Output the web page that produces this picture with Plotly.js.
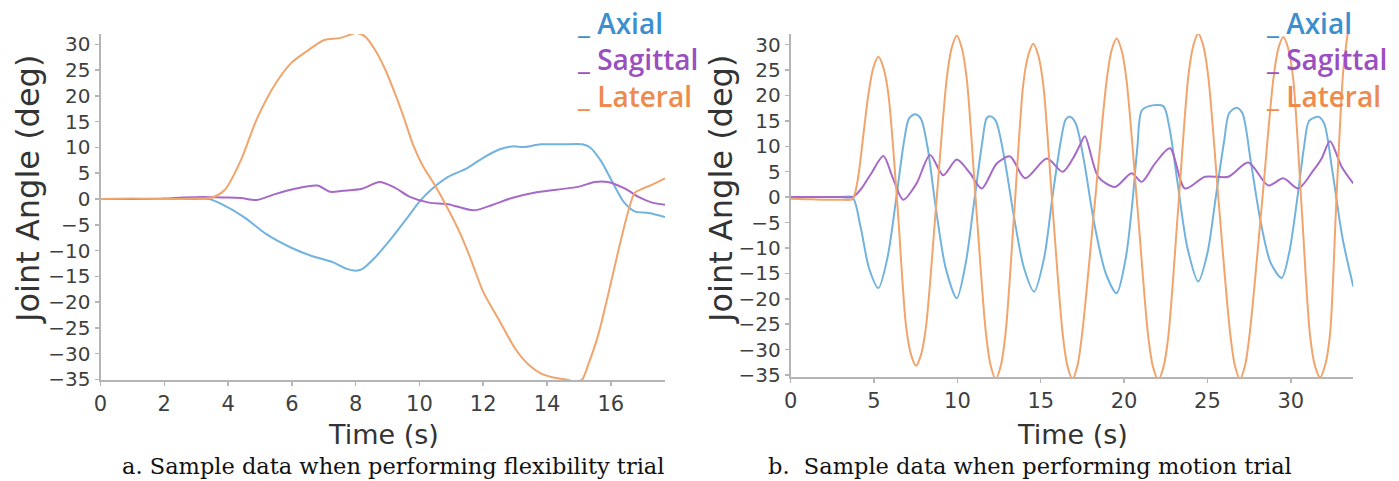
<!DOCTYPE html>
<html>
<head>
<meta charset="utf-8">
<script src="https://cdn.plot.ly/plotly-3.0.1.min.js"></script>
<style>html,body{margin:0;padding:0;background:#fff;}#chart{width:1399px;height:481px;}</style>
</head>
<body>
<div id="chart"></div>
<script>
// ---------- Data: (a) flexibility trial ----------
const flexAxialT = [0,1,2,3,3.4,3.8,4.5,5.2,6.0,6.6,7.3,7.7,8.0,8.2,8.6,9.1,9.6,10.0,10.4,10.9,11.5,12.0,12.5,12.9,13.3,13.8,14.5,15.1,15.35,15.7,16.05,16.4,16.75,17.2,17.7];
const flexAxialV = [0,0,0,0,0,-1,-3.5,-6.8,-9.5,-11,-12.3,-13.5,-13.9,-13.6,-11.4,-7.8,-3.8,-0.5,2,4.3,6,8,9.6,10.2,10.1,10.6,10.6,10.6,10,7.3,3.3,-0.5,-2.4,-2.7,-3.5];

const flexSagittalT = [0,1,2,2.6,3.2,3.8,4.4,4.9,5.5,6.1,6.8,7.2,7.6,8.2,8.75,9.2,9.7,10.3,10.9,11.7,12.3,12.9,13.6,14.3,15.0,15.5,15.9,16.45,16.9,17.3,17.7];
const flexSagittalV = [0,0,0.1,0.3,0.4,0.3,0.2,-0.2,1,2,2.6,1.4,1.6,2,3.3,2.3,0.4,-0.7,-1,-2.2,-1.1,0.2,1.2,1.8,2.4,3.3,3.3,2,0.3,-0.7,-1.1];

const flexLateralT = [0,1,2,3,3.5,3.9,4.4,4.9,5.5,6.0,6.5,7.0,7.5,7.8,8.0,8.3,8.6,8.9,9.2,9.5,9.8,10.1,10.5,10.9,11.3,11.6,12.0,12.5,13.0,13.4,13.8,14.2,14.6,14.9,15.1,15.3,15.6,15.9,16.2,16.5,16.75,17.0,17.3,17.7];
const flexLateralV = [0,0.1,0,0.1,0.3,1.8,7.5,15.5,22.5,26.5,28.8,30.8,31.2,31.8,32.2,31.5,29,25.5,21,16,10.5,6.5,2.5,-2,-7,-11.5,-18,-23.5,-29,-32,-33.8,-34.6,-35,-35.4,-35,-32,-26.5,-19,-11,-3.5,1.2,2,2.8,4];

// ---------- Data: (b) motion trial ----------
const motAxialT = [0,1,2,3,3.7,4.2,4.7,5.26,5.8,6.3,6.8,7.1,7.46,7.8,8.2,8.7,9.3,9.96,10.5,11.0,11.5,11.75,11.96,12.3,12.8,13.4,14.0,14.6,15.2,15.7,16.2,16.5,16.75,17.1,17.6,18.2,18.9,19.55,20.1,20.5,20.8,21.05,21.5,22.35,22.7,23.2,23.8,24.45,25.0,25.5,26.0,26.3,26.75,27.1,27.6,28.2,28.8,29.45,29.9,30.4,30.8,31.1,31.65,32.0,32.5,33.1,33.75];
const motAxialV = [0,0,0,0,0,-6,-14,-17.9,-12,-1,11,15.5,16.3,15.5,10,-2,-14,-19.9,-13,-1,11,15.5,15.9,15,8,-4,-14,-18.6,-12,0,11,15.3,15.8,14.5,7,-5,-15,-18.9,-12,-1,10,17,17.9,17.9,14,3,-10,-16.6,-11,0,11,16.5,17.6,16.5,7,-5,-13,-15.9,-11,0,10,15,15.8,14.5,5,-8,-17.6];

const motSagittalT = [0,1,2,3,3.7,4.2,4.8,5.56,6.1,6.75,7.55,8.36,9.15,9.96,10.76,11.46,12.36,13.16,14.06,15.36,16.32,17.0,17.36,17.65,18.45,19.45,20.45,21.05,21.85,22.75,23.65,24.85,26.25,27.45,28.65,29.55,30.45,31.3,31.85,32.35,33.05,33.75];
const motSagittalV = [0,0,0,0,0,1.5,4.5,8.1,4,-0.5,2.7,8.3,4.3,7.4,4.7,1.7,6.6,8,3.7,7.6,5,8,10.3,12,4,2,4.7,3,6.6,9.6,1.7,4,4,6.8,2.3,3.7,1.7,5,7.6,11,6,2.7];

const motLateralT = [0,1,2,3,3.7,4.0,4.35,4.66,4.96,5.26,5.56,5.86,6.39,6.92,7.22,7.52,7.82,8.12,8.74,9.36,9.66,9.96,10.26,10.56,11.13,11.7,12.0,12.3,12.6,12.9,13.42,13.95,14.25,14.55,14.85,15.15,15.72,16.3,16.6,16.9,17.2,17.5,18.22,18.95,19.25,19.55,19.85,20.15,20.8,21.45,21.75,22.05,22.35,22.65,23.25,23.85,24.15,24.45,24.75,25.05,25.7,26.35,26.65,26.95,27.25,27.55,28.25,28.95,29.25,29.55,29.85,30.15,30.65,31.15,31.45,31.75,32.05,32.35,32.75,33.15,33.45];
const motLateralV = [-0.3,-0.4,-0.5,-0.5,-0.4,3,12,20.2,25.5,27.6,25.5,20.2,-1,-25.4,-31,-33.2,-31,-25.4,-1,23.3,29.4,31.75,29.4,23.3,-2,-26.4,-33.2,-35.8,-33.2,-26.4,-2.5,22.2,27.9,30.2,27.9,22.2,-2.5,-26.4,-33.2,-35.8,-33.2,-26.4,-2,22.9,28.9,31.2,28.9,22.9,-2,-27.5,-33.6,-36,-33.6,-27.5,-2,23.7,29.8,32.2,29.8,23.7,-2,-26.4,-33.2,-35.8,-33.2,-26.4,-2,23.1,29.2,31.5,29.2,23.1,-2,-27.1,-33.2,-35.5,-33.2,-27.1,0.5,25,33];

// ---------- Text ----------
const seriesNames = ['Axial','Sagittal','Lateral'];
const lineColors = ['#72b3de','#a56ac8','#f1a46c'];
const textColors = ['#3b8fd0','#9a4fc0','#ee8a4c'];
const yTickVals = [-35,-30,-25,-20,-15,-10,-5,0,5,10,15,20,25,30];
const flexXTicks = [0,2,4,6,8,10,12,14,16];
const motXTicks = [0,5,10,15,20,25,30];
const yTitle = 'Joint Angle (deg)';
const xTitle = 'Time (s)';
const captionA = 'a. Sample data when performing flexibility trial';
const captionB = 'b.&nbsp; Sample data when performing motion trial';

const W = 1399, H = 481;
const px = v => v / W;
const py = v => 1 - v / H;

function tr(x, y, i, xa, ya) {
  return {x: x, y: y, type: 'scatter', mode: 'lines', name: seriesNames[i],
    xaxis: xa, yaxis: ya, showlegend: false, hoverinfo: 'skip',
    line: {color: lineColors[i], width: 2, shape: 'spline', smoothing: 0.8}};
}

const data = [
  tr(flexAxialT, flexAxialV, 0, 'x', 'y'),
  tr(flexSagittalT, flexSagittalV, 1, 'x', 'y'),
  tr(flexLateralT, flexLateralV, 2, 'x', 'y'),
  tr(motAxialT, motAxialV, 0, 'x2', 'y2'),
  tr(motSagittalT, motSagittalV, 1, 'x2', 'y2'),
  tr(motLateralT, motLateralV, 2, 'x2', 'y2')
];

const tickFont = {family: 'DejaVu Sans', size: 20, color: '#3f3f3f'};
const titleFont = {family: 'DejaVu Sans', size: 27, color: '#333333'};
const axisCommon = {showline: true, linecolor: '#b5b5b5', linewidth: 2, ticks: 'outside',
  ticklen: 4, tickwidth: 1.5, tickcolor: '#b5b5b5', showgrid: false, zeroline: false,
  fixedrange: true, automargin: false};

const layout = {
  width: W, height: H,
  margin: {l: 0, r: 0, t: 0, b: 0},
  paper_bgcolor: '#ffffff', plot_bgcolor: '#ffffff',
  showlegend: false,
  xaxis: Object.assign({}, axisCommon, {domain: [px(100.5), px(665)], range: [0, 17.7],
    tickvals: flexXTicks, tickfont: Object.assign({}, tickFont, {size: 21}), anchor: 'y'}),
  yaxis: Object.assign({}, axisCommon, {domain: [py(380), py(34)], range: [-35.1, 32.0],
    tickvals: yTickVals, tickfont: tickFont, anchor: 'x'}),
  xaxis2: Object.assign({}, axisCommon, {domain: [px(790.7), px(1353.3)], range: [0, 33.75],
    tickvals: motXTicks, tickfont: Object.assign({}, tickFont, {size: 21}), anchor: 'y2'}),
  yaxis2: Object.assign({}, axisCommon, {domain: [py(377), py(34)], range: [-35.4, 32.1],
    tickvals: yTickVals, tickfont: tickFont, anchor: 'x2'}),
  annotations: []
};

// axis titles (placed as text to match the reference positions)
[[383, 434], [1072, 434]].forEach(p => layout.annotations.push({xref: 'paper', yref: 'paper',
  x: px(p[0]), y: py(p[1]), xanchor: 'center', yanchor: 'middle', showarrow: false,
  text: xTitle, font: titleFont}));
[[28, 190], [721, 190]].forEach(p => layout.annotations.push({xref: 'paper', yref: 'paper',
  x: px(p[0]), y: py(p[1]), xanchor: 'center', yanchor: 'middle', showarrow: false,
  textangle: -90, text: yTitle, font: Object.assign({}, titleFont, {size: 32})}));

// legend blocks
const legendText = seriesNames.map((n, i) =>
  '<span style="color:' + textColors[i] + '">_ ' + n + '</span>').join('<br>');
[575, 1264].forEach(lx => layout.annotations.push({xref: 'paper', yref: 'paper',
  x: px(lx), y: py(59), xanchor: 'left', yanchor: 'middle', align: 'left', showarrow: false,
  text: legendText, font: {family: 'Open Sans', size: 28, weight: 600, color: textColors[0]}}));

// captions
layout.annotations.push({xref: 'paper', yref: 'paper', x: px(393), y: py(466), xanchor: 'center',
  yanchor: 'middle', showarrow: false, text: captionA,
  font: {family: 'DejaVu Serif', size: 22.5, color: '#111111'}});
layout.annotations.push({xref: 'paper', yref: 'paper', x: px(1030), y: py(466), xanchor: 'center',
  yanchor: 'middle', showarrow: false, text: captionB,
  font: {family: 'DejaVu Serif', size: 22.5, color: '#111111'}});

Plotly.newPlot('chart', data, layout, {staticPlot: true, displayModeBar: false});
</script>
</body>
</html>
